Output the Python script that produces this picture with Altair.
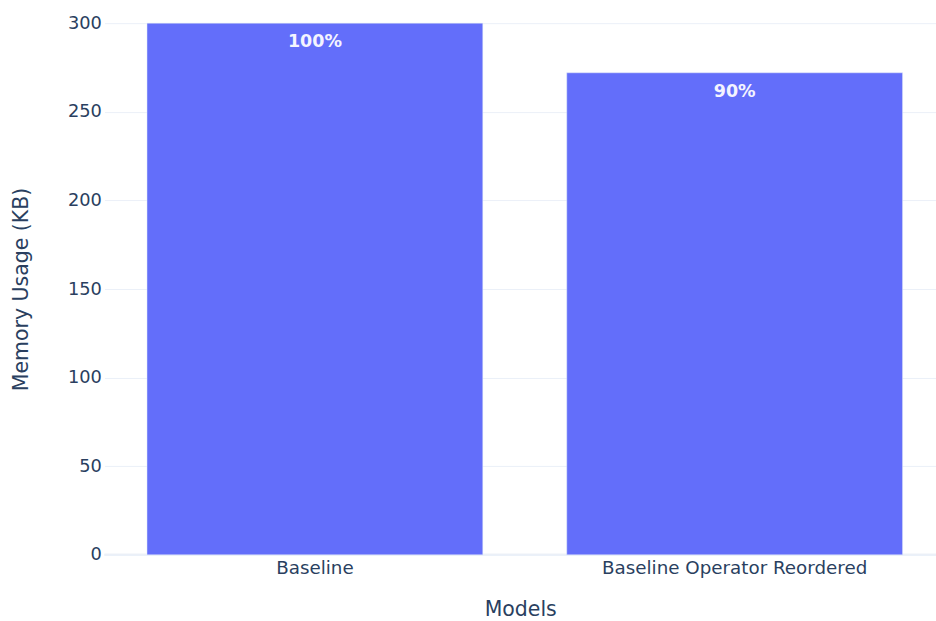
import altair as alt
import pandas as pd

# Memory footprint per model variant
models = ["Baseline", "Baseline Operator Reordered"]
memory_kb = [300, 272]
y_ticks = [0, 50, 100, 150, 200, 250, 300]

baseline = memory_kb[0]
pct_labels = [f"{int(v / baseline * 100)}%" for v in memory_kb]

df = pd.DataFrame({"model": models, "memory": memory_kb, "pct": pct_labels})

FONT = "DejaVu Sans"
INK = "#2a3f5f"
GRID = "#ebf0f8"
BAR = "#636efa"

x_enc = alt.X(
    "model:N",
    sort=models,
    scale=alt.Scale(paddingInner=0.2, paddingOuter=0.0905, align=0.56),
    axis=alt.Axis(
        title="Models",
        labelAngle=0,
        labelFont=FONT,
        labelFontSize=18.3,
        labelColor=INK,
        labelPadding=5,
        labelLimit=0,
        ticks=False,
        domain=False,
        grid=False,
        titleFont=FONT,
        titleFontSize=20.5,
        titleFontWeight="normal",
        titleColor=INK,
        titleY=55,
        titleBaseline="middle",
    ),
)

y_enc = alt.Y(
    "memory:Q",
    scale=alt.Scale(domain=[0, 300], nice=False, zero=True),
    axis=alt.Axis(
        title="Memory Usage (KB)",
        values=y_ticks,
        labelFont=FONT,
        labelFontSize=17.8,
        labelColor=INK,
        labelPadding=3,
        ticks=False,
        domain=False,
        grid=True,
        gridColor=GRID,
        gridWidth=1,
        titleFont=FONT,
        titleFontSize=20.5,
        titleFontWeight="normal",
        titleColor=INK,
        titleAngle=-90,
        titleAlign="center",
        titleBaseline="middle",
        titleX=-83,
        titleY=266,
    ),
)

bars = alt.Chart(df).mark_bar(color=BAR, stroke="#e5ecf6", strokeWidth=0.5).encode(
    x=x_enc, y=y_enc
)

labels = alt.Chart(df).mark_text(
    font=FONT,
    fontSize=17.5,
    fontWeight="bold",
    color="#f4f4ff",
    baseline="top",
    dy=10,
).encode(x=alt.X("model:N", sort=models), y="memory:Q", text="pct:N")

zero_line = alt.Chart(df).mark_rule(color=GRID, strokeWidth=2).encode(
    y=alt.datum(0)
)

chart = (
    alt.layer(zero_line, bars, labels)
    .properties(
        width=832,
        height=532,
        autosize=alt.AutoSizeParams(type="none"),
        padding={"left": 104.5, "top": 23, "right": 0, "bottom": 66},
        background="white",
    )
    .configure_view(stroke=None)
)

chart.save("out.html", embed_options={"renderer": "svg", "actions": False})
